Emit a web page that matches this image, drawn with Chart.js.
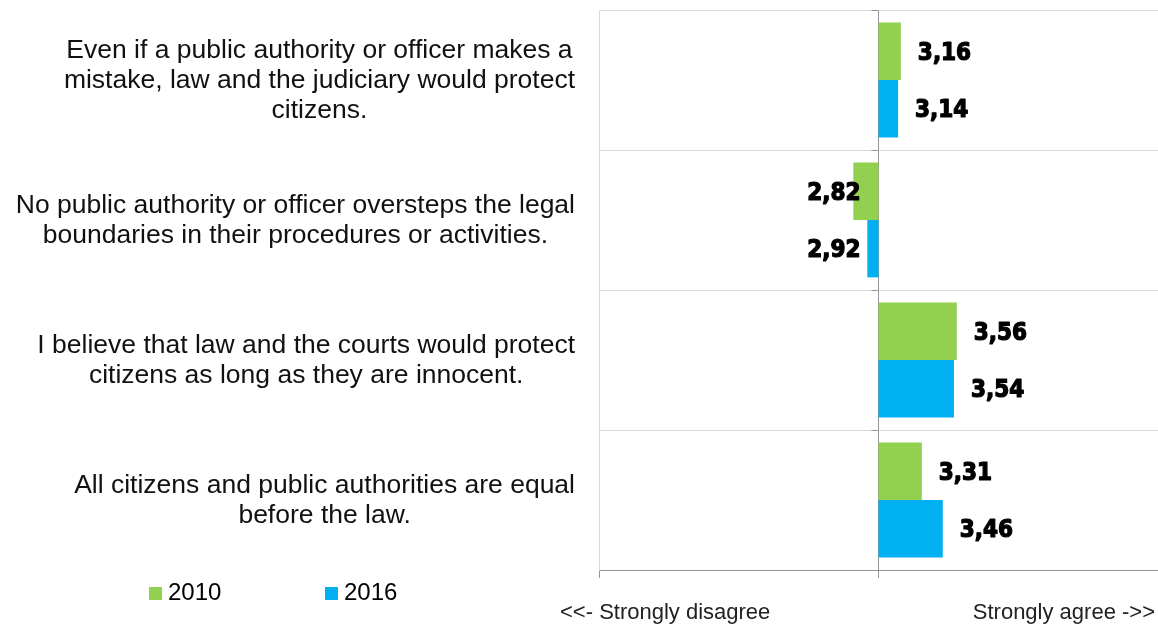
<!DOCTYPE html>
<html>
<head>
<meta charset="utf-8">
<script src="https://cdn.jsdelivr.net/npm/chart.js@4.4.1/dist/chart.umd.min.js"></script>
<style>
body { margin: 0; background: #fff; font-family: "Liberation Sans", Arial, sans-serif; }
#wrap { position: relative; width: 1158px; height: 625px; }
.legend { position: absolute; top: 577px; font-size: 24px; line-height: 30px; color: #000; }
.legend .box { display: inline-block; width: 13px; height: 13px; margin-right: 6px; }
</style>
</head>
<body>
<div id="wrap">
    <canvas id="myChart" width="1158" height="625"></canvas>
    <div class="legend" style="left:149px"><span class="box" style="background:#92d050"></span>2010</div>
    <div class="legend" style="left:325px"><span class="box" style="background:#00b0f0"></span>2016</div>
</div>
<script>
// Data
var categories = [
    ['Even if a public authority or officer makes a', 'mistake, law and the judiciary would protect', 'citizens.'],
    ['No public authority or officer oversteps the legal', 'boundaries in their procedures or activities.'],
    ['I believe that law and the courts would protect', 'citizens as long as they are innocent.'],
    ['All citizens and public authorities are equal', 'before the law.']
];
var years = ['2010', '2016'];
var values2010 = [3.16, 2.82, 3.56, 3.31];
var values2016 = [3.14, 2.92, 3.54, 3.46];
var midpoint = 3;
var scaleMin = 1;
var scaleMax = 5;
var scaleEnds = ['<<- Strongly disagree', 'Strongly agree ->>'];

var green = '#92d050';
var blue = '#00b0f0';

// bars start at the midpoint of the scale
function fromMid(values) {
    return values.map(function (v) { return [midpoint, v]; });
}

// category labels, value labels, axis end texts
var textPlugin = {
    id: 'textPlugin',
    afterDatasetsDraw: function (chart) {
        var ctx = chart.ctx;
        var area = chart.chartArea;
        var xs = chart.scales.x;
        var ys = chart.scales.y;
        ctx.save();

        // little ticks on the midpoint line
        var mid = xs.getPixelForValue(midpoint);
        ctx.strokeStyle = '#969696';
        ctx.lineWidth = 1;
        var step = (area.bottom - area.top) / categories.length;
        for (var k = 0; k < categories.length; k++) {
            var yy = Math.round(area.top + k * step) + 0.5;
            ctx.beginPath();
            ctx.moveTo(mid - 7, yy);
            ctx.lineTo(mid, yy);
            ctx.stroke();
        }

        ctx.fillStyle = '#111';
        ctx.textBaseline = 'middle';
        ctx.font = '26.5px "Liberation Sans", Arial, sans-serif';
        ctx.textAlign = 'center';
        categories.forEach(function (lines, i) {
            var w = Math.max.apply(null, lines.map(function (l) { return ctx.measureText(l).width; }));
            var cx = area.left - 24 - w / 2;
            var cy = ys.getPixelForTick(i);
            lines.forEach(function (l, j) {
                ctx.fillText(l, cx, cy + 1 + (j - (lines.length - 1) / 2) * 30);
            });
        });

        // value labels, a bit heavier with a thin stroke
        ctx.fillStyle = '#000';
        ctx.strokeStyle = '#000';
        ctx.lineWidth = 1.2;
        ctx.lineJoin = 'round';
        ctx.font = 'bold 24px "DejaVu Sans Condensed", "DejaVu Sans", sans-serif';
        chart.data.datasets.forEach(function (ds, di) {
            chart.getDatasetMeta(di).data.forEach(function (bar, i) {
                var v = ds.data[i][1];
                var txt = v.toFixed(2).replace('.', ',');
                var tx;
                if (v >= midpoint) {
                    ctx.textAlign = 'left';
                    tx = bar.x + 17;
                } else {
                    ctx.textAlign = 'right';
                    tx = bar.x - 18;
                }
                ctx.fillText(txt, tx, bar.y + 2);
                ctx.strokeText(txt, tx, bar.y + 2);
            });
        });

        ctx.font = '22px "Liberation Sans", Arial, sans-serif';
        ctx.fillStyle = '#222';
        ctx.textAlign = 'left';
        ctx.fillText(scaleEnds[0], xs.getPixelForValue(scaleMin) - 39, 613);
        ctx.textAlign = 'right';
        ctx.fillText(scaleEnds[1], xs.getPixelForValue(scaleMax) - 3, 613);
        ctx.restore();
    }
};

var ctx = document.getElementById('myChart').getContext('2d');

var myChart = new Chart(ctx, {
    type: 'bar',
    data: {
        labels: categories,
        datasets: [{
            label: years[0],
            data: fromMid(values2010),
            backgroundColor: green,
            categoryPercentage: 0.82,
            barPercentage: 1
        }, {
            label: years[1],
            data: fromMid(values2016),
            backgroundColor: blue,
            categoryPercentage: 0.82,
            barPercentage: 1
        }]
    },
    options: {
        indexAxis: 'y',
        responsive: false,
        animation: false,
        layout: { padding: { top: 10, right: 0, bottom: 0, left: 0 } },
        plugins: {
            legend: { display: false },
            tooltip: { enabled: false }
        },
        scales: {
            x: {
                min: scaleMin,
                max: scaleMax,
                ticks: { display: false, stepSize: 2 },
                grid: {
                    color: function (c) {
                        if (c.tick && c.tick.value === midpoint) return '#969696';
                        if (c.tick && c.tick.value === scaleMin) return '#d9d9d9';
                        return 'rgba(0,0,0,0)';
                    },
                    tickColor: '#969696',
                    tickLength: 8
                },
                border: { color: '#969696' },
                afterFit: function (s) { s.height = 55; }
            },
            y: {
                ticks: { display: false },
                grid: { color: '#d9d9d9', drawTicks: false },
                border: { color: '#d9d9d9' },
                afterFit: function (s) { s.width = 599; }
            }
        }
    },
    plugins: [textPlugin]
});
</script>
</body>
</html>
